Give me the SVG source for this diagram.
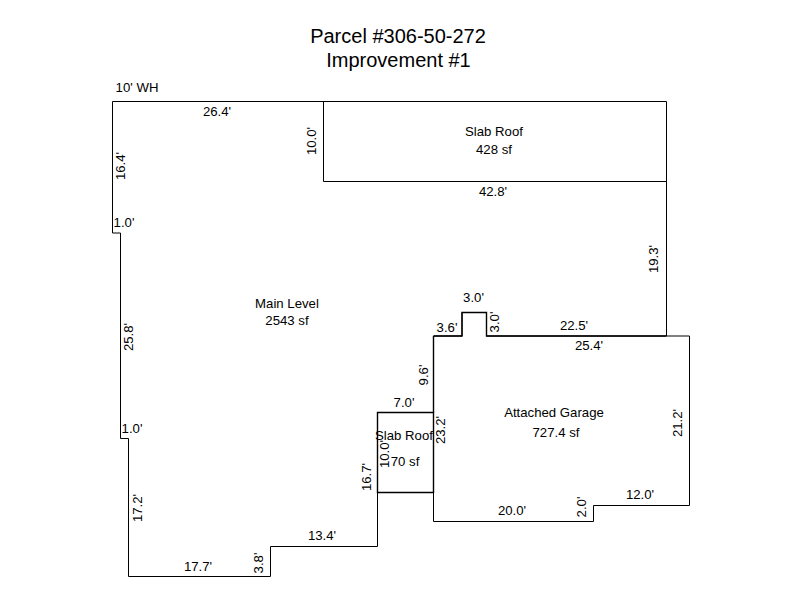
<svg xmlns="http://www.w3.org/2000/svg" width="800" height="600" viewBox="0 0 800 600">
<style>
text{font-family:"Liberation Sans",Arial,sans-serif;font-size:13.2px;fill:#000;text-anchor:middle}
.t{font-size:20px}
.a{fill:none;stroke:#000;stroke-width:1}
.g{fill:none;stroke:#000;stroke-width:1.4}
</style>
<rect width="800" height="600" fill="#fff"/>
<g id="connectors">
<path id="main-level" class="a" d="M112.500 101.500H666.500V336H486.500V312.500H462V336H433.500V412.500H377.500V546.500H270.500V576.500H128.500V438.500H120.500V233H112.500Z"/>
<path id="slab-roof-top" class="a" d="M323.500 101.500V181.500H666.500"/>
<path id="slab-roof-small" class="g" d="M377.500 412.500H433.500V492.500H377.500Z"/>
<path id="garage" class="a" d="M666.500 336H689.500V505.500H593.500V521.500H433.500V492.500"/>
<path id="garage-top" class="g" d="M433.500 336H462V312.500H486.500V336H666.500M433.500 336V412.500"/>
</g>
<g id="title"><text class="t" x="398" y="43">Parcel #306-50-272</text><text class="t" x="398.500" y="67">Improvement #1</text></g>
<g id="node-main-level"><text x="287" y="308">Main Level</text><text x="287" y="325">2543 sf</text></g>
<g id="node-slab-roof-1"><text x="494" y="136">Slab Roof</text><text x="494" y="154">428 sf</text></g>
<g id="node-slab-roof-2"><text x="404" y="440">Slab Roof</text><text x="405" y="466">70 sf</text></g>
<g id="node-garage"><text x="554" y="417">Attached Garage</text><text x="556" y="437">727.4 sf</text></g>
<g id="dimensions">
<text x="137" y="92">10' WH</text>
<text x="217" y="116">26.4'</text>
<text x="124" y="227">1.0'</text>
<text x="132" y="433">1.0'</text>
<text x="493" y="196">42.8'</text>
<text x="473.500" y="302">3.0'</text>
<text x="447" y="332">3.6'</text>
<text x="574" y="330">22.5'</text>
<text x="589" y="350">25.4'</text>
<text x="404" y="407">7.0'</text>
<text x="512" y="515">20.0'</text>
<text x="640" y="499">12.0'</text>
<text x="322" y="540">13.4'</text>
<text x="198" y="571">17.7'</text>
<text transform="translate(316 141) rotate(-90)">10.0'</text>
<text transform="translate(125 166) rotate(-90)">16.4'</text>
<text transform="translate(133 337) rotate(-90)">25.8'</text>
<text transform="translate(142 508) rotate(-90)">17.2'</text>
<text transform="translate(263 563) rotate(-90)">3.8'</text>
<text transform="translate(371 477) rotate(-90)">16.7'</text>
<text transform="translate(389 454) rotate(-90)">10.0'</text>
<text transform="translate(428 375) rotate(-90)">9.6'</text>
<text transform="translate(445 430) rotate(-90)">23.2'</text>
<text transform="translate(499 322) rotate(-90)">3.0'</text>
<text transform="translate(586 507) rotate(-90)">2.0'</text>
<text transform="translate(682 423) rotate(-90)">21.2'</text>
<text transform="translate(658 259) rotate(-90)">19.3'</text>
</g>
</svg>
